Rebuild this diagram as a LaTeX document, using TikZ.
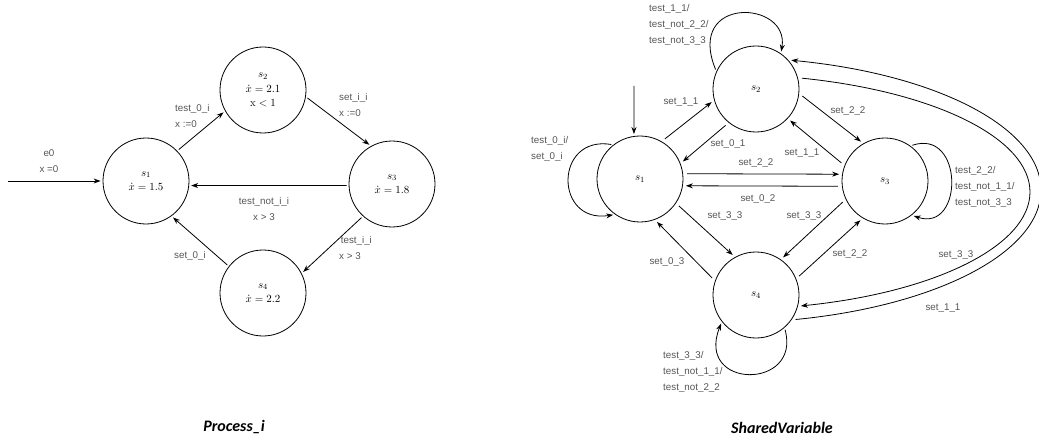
\documentclass[tikz,border=0pt]{standalone}
\usepackage{fontspec}
\usetikzlibrary{arrows.meta}
\newfontfamily\lblfont{Liberation Sans}
\newfontfamily\ttlfont{Carlito}
\definecolor{lblgray}{RGB}{85,85,85}
\begin{document}
\begin{tikzpicture}[x=1pt,y=-1pt,
  state/.style={circle, draw, line width=0.8pt, minimum size=86pt, inner sep=0pt, align=center, font=\fontsize{11}{14.5}\selectfont},
  lbl/.style={font=\lblfont\fontsize{9.8}{16}\selectfont, text=lblgray, inner sep=0pt},
  lblL/.style={lbl, align=left, anchor=west},
  lblC/.style={lbl, align=center},
  edge/.style={line width=0.8pt, -{Stealth[length=7pt,width=5pt]}, shorten <=2pt, shorten >=2pt},
  edgeR/.style={edge, shorten <=4pt, shorten >=3pt},
  ttl/.style={font=\ttlfont\bfseries\itshape\fontsize{16}{18}\selectfont}]
\useasboundingbox (0,0) rectangle (1039,441);

% ---------- Process_i ----------
\node[state] (a1) at (146,181) {$s_1$\\$\dot{x}=1.5$};
\node[state] (a2) at (263,90) {$s_2$\\$\dot{x}=2.1$\\$\mathrm{x}<1$};
\node[state] (a3) at (392,184) {$s_3$\\$\dot{x}=1.8$};
\node[state] (a4) at (263,293) {$s_4$\\$\dot{x}=2.2$};
\coordinate (a0) at (8,181);
\draw[edge, shorten <=0pt] (a0) -- (a1.west);
\draw[edge] (a1.44) -- (a2.209);
\draw[edge] (a2.-9) -- (a3.119);
\draw[edge] (a3.182) -- (a1.-6);
\draw[edge] (a3.-132) -- (a4.27);
\draw[edge] (a4.142) -- (a1.-54);

\node[lblC] (l0) at (49,161) {e0\\x =0};
\node[lblL] (l1) at (175,116) {test\_0\_i\\x :=0};
\node[lblL] (l2) at (339,105) {set\_i\_i\\x :=0};
\node[lblC] (l3) at (264,209) {test\_not\_i\_i\\x > 3};
\node[lblL] (l4) at (339,248) {\,test\_i\_i\\x > 3};
\node[lblC] (l5) at (190,256) {set\_0\_i};
\node[ttl] (t1) at (234,427) {Process\_i};

% ---------- SharedVariable ----------
\node[state] (b1) at (640,179) {$s_1$};
\node[state] (b2) at (756,89) {$s_2$};
\node[state] (b3) at (885,181) {$s_3$};
\node[state] (b4) at (756,295) {$s_4$};
\coordinate (b0) at (634,86);
\coordinate (m1) at (1030,192);
\coordinate (m2) at (1041,190);

\draw[edge, shorten <=0pt] (b0) -- (b1.98);
% self loops
\draw[edge] (b1.128) .. controls (554,135) and (554,224) .. (b1.-125);
\draw[edge] (b2.156) .. controls (685,-5) and (790,0) .. (b2.55);
\draw[edge] (b3.54) .. controls (964,128) and (964,233) .. (b3.-52);
\draw[edge] (b4.-49) .. controls (802,390) and (695,390) .. (b4.-142);
% straight edges
\draw[edgeR] (b1.60) -- (b2.195);
\draw[edgeR] (b2.-129) -- (b1.21);
\draw[edgeR] (b2.-6) -- (b3.120);
\draw[edgeR] (b3.159) -- (b2.-43);
\draw[edgeR] (b1.7) -- (b3.171);
\draw[edgeR] (b3.187) -- (b1.-9);
\draw[edgeR] (b1.-34) -- (b4.119);
\draw[edgeR] (b4.161) -- (b1.-70);
\draw[edgeR] (b3.205) -- (b4.55);
\draw[edgeR] (b4.22) -- (b3.-121);
% long curves
\draw[edgeR] (b2.15) .. controls (935.8,91.8) and (1030,138.6) .. (m1) .. controls (1030,245.4) and (935.8,292.2) .. (b4.-15);
\draw[edgeR] (b4.-35) .. controls (937.8,305.6) and (1041,251.9) .. (m2) .. controls (1041,128.1) and (937.8,74.4) .. (b2.42);

\node[lblL] (k1) at (531,149) {test\_0\_i/\\set\_0\_i};
\node[lblL] (k2) at (649,25) {test\_1\_1/\\test\_not\_2\_2/\\test\_not\_3\_3};
\node[lblL] (k3) at (955,187) {test\_2\_2/\\test\_not\_1\_1/\\test\_not\_3\_3};
\node[lblL] (k4) at (663,372) {test\_3\_3/\\test\_not\_1\_1/\\test\_not\_2\_2};
\node[lblC] (e1) at (681,102) {set\_1\_1};
\node[lblC] (e2) at (728,144) {set\_0\_1};
\node[lblC] (e3) at (848,111) {set\_2\_2};
\node[lblC] (e4) at (802,153) {set\_1\_1};
\node[lblC] (e5) at (756,163) {set\_2\_2};
\node[lblC] (e6) at (758,199) {set\_0\_2};
\node[lblC] (e7) at (725,216) {set\_3\_3};
\node[lblC] (e8) at (804,216) {set\_3\_3};
\node[lblC] (e9) at (667,262) {set\_0\_3};
\node[lblC] (e10) at (850,254) {set\_2\_2};
\node[lblC] (e11) at (956,255) {set\_3\_3};
\node[lblC] (e12) at (943,308) {set\_1\_1};
\node[ttl] (t2) at (782,428) {SharedVariable};
\end{tikzpicture}
\end{document}
